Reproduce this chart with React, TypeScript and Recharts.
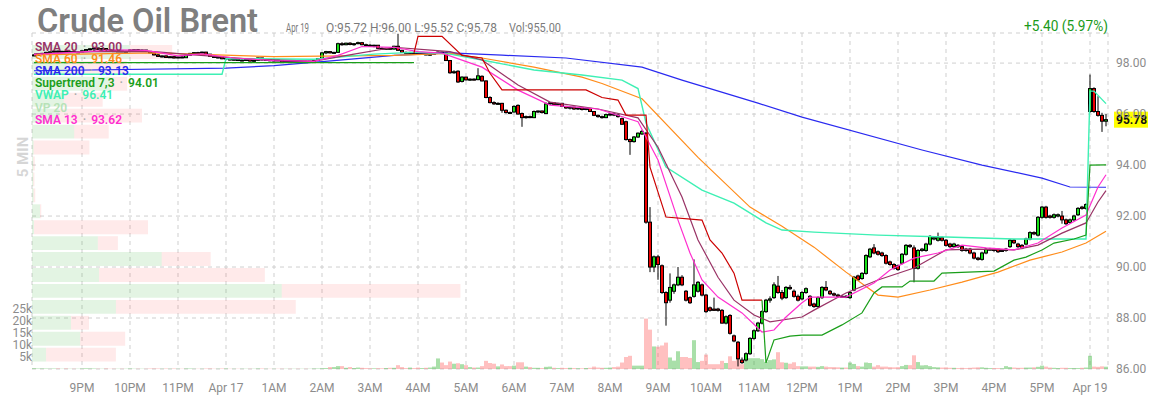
import React from 'react';
import {
  ComposedChart, Bar, Line, XAxis, YAxis, CartesianGrid,
  ReferenceArea, ReferenceLine, Cell,
} from 'recharts';

// 5 分足: [open, high, low, close, volume(k)]
const eveningBars = [
  [98.30,98.34,98.27,98.32,0.3],[98.32,98.36,98.30,98.35,0.2],[98.35,98.40,98.33,98.38,0.2],[98.38,98.44,98.36,98.42,0.2],
  [98.42,98.46,98.39,98.44,0.1],[98.44,98.50,98.42,98.47,0.2],[98.47,98.49,98.41,98.43,0.2],[98.43,98.48,98.42,98.46,0.1],
  [98.46,98.47,98.40,98.42,0.2],[98.42,98.46,98.41,98.45,0.1],[98.45,98.48,98.40,98.41,0.1],[98.41,98.45,98.39,98.44,0.1],
  [98.44,98.50,98.43,98.48,0.2],[98.48,98.55,98.46,98.53,0.3],[98.53,98.58,98.50,98.56,0.2],[98.56,98.62,98.54,98.59,0.2],
  [98.59,98.61,98.52,98.54,0.1],[98.54,98.58,98.53,98.57,0.1],[98.57,98.59,98.50,98.52,0.2],[98.52,98.55,98.47,98.49,0.1],
  [98.49,98.52,98.45,98.47,0.1],[98.47,98.50,98.44,98.48,0.1],[98.48,98.49,98.43,98.45,0.1],[98.45,98.48,98.44,98.47,0.1],
  [98.47,98.53,98.46,98.51,0.2],[98.51,98.54,98.48,98.52,0.1],[98.52,98.55,98.49,98.50,0.1],[98.50,98.53,98.47,98.51,0.1],
  [98.51,98.52,98.44,98.46,0.1],[98.46,98.47,98.38,98.40,0.2],[98.40,98.41,98.30,98.32,0.2],[98.32,98.36,98.24,98.26,0.2],
  [98.26,98.30,98.22,98.28,0.1],[98.28,98.30,98.20,98.22,0.2],[98.22,98.27,98.20,98.25,0.1],[98.25,98.28,98.18,98.20,0.2],
  [98.20,98.26,98.19,98.24,0.1],[98.24,98.27,98.19,98.21,0.1],[98.21,98.33,98.20,98.31,0.2],[98.31,98.40,98.30,98.38,0.2],
  [98.38,98.43,98.35,98.41,0.1],[98.41,98.44,98.37,98.39,0.1],[98.39,98.45,98.38,98.43,0.1],[98.43,98.44,98.33,98.35,0.2],
  [98.35,98.36,98.24,98.26,0.2],[98.26,98.29,98.20,98.22,0.1],[98.22,98.26,98.18,98.24,0.1],[98.24,98.25,98.15,98.17,0.2],
];

const nightBars = [
  [98.17,98.22,98.12,98.20,0.2],[98.20,98.21,98.10,98.12,0.1],[98.12,98.17,98.10,98.15,0.1],[98.15,98.18,98.08,98.10,0.1],
  [98.10,98.14,98.07,98.12,0.1],[98.12,98.16,98.10,98.14,0.1],[98.14,98.15,98.06,98.08,0.1],[98.08,98.12,98.05,98.11,0.1],
  [98.11,98.22,98.10,98.20,0.2],[98.20,98.21,98.10,98.12,0.2],[98.12,98.16,98.09,98.14,0.1],[98.14,98.15,98.07,98.09,0.1],
  [98.09,98.13,98.06,98.12,0.1],[98.12,98.14,98.08,98.10,0.1],[98.10,98.12,98.03,98.05,0.1],[98.05,98.10,98.03,98.08,0.1],
  [98.08,98.09,98.02,98.04,0.1],[98.04,98.08,98.02,98.07,0.1],[98.07,98.10,98.03,98.05,0.1],[98.05,98.08,98.01,98.06,0.1],
  [98.06,98.09,98.02,98.04,0.1],[98.04,98.08,98.02,98.07,0.1],[98.07,98.12,98.05,98.10,0.2],[98.10,98.20,98.08,98.18,0.2],
  [98.18,98.42,98.16,98.40,0.3],[98.40,98.48,98.35,98.45,0.4],[98.45,98.47,98.38,98.40,0.8],[98.40,98.44,98.36,98.42,0.8],
  [98.42,98.80,98.40,98.76,1.2],[98.76,98.82,98.68,98.72,1.2],[98.72,98.80,98.70,98.78,0.5],[98.78,98.82,98.70,98.73,0.8],
  [98.73,98.78,98.68,98.76,0.4],[98.76,98.84,98.74,98.80,0.6],[98.80,98.83,98.70,98.72,0.5],[98.72,98.76,98.66,98.70,0.4],
  [98.70,98.74,98.64,98.68,0.3],[98.68,98.72,98.62,98.70,0.3],[98.70,98.71,98.56,98.58,0.3],[98.58,98.62,98.53,98.56,0.3],
  [98.56,98.60,98.52,98.58,0.4],[98.58,98.62,98.54,98.55,0.5],[98.55,98.68,98.53,98.66,0.5],[98.66,99.15,98.48,98.50,1.6],
  [98.50,98.52,98.40,98.42,0.8],[98.42,98.45,98.38,98.40,0.4],[98.40,98.44,98.37,98.42,0.6],[98.42,98.43,98.36,98.38,0.4],
  [98.38,98.40,98.32,98.34,0.6],[98.34,98.40,98.32,98.38,0.4],[98.38,98.39,98.30,98.32,0.5],[98.32,98.36,98.28,98.35,0.6],
  [98.35,98.42,98.33,98.40,1.0],[98.40,98.46,98.36,98.43,4.4],[98.43,98.45,98.36,98.40,2.7],[98.40,98.42,98.08,98.10,1.6],
];

const morningBars = [
  [98.10,98.12,97.58,97.62,3.1],[97.62,97.72,97.58,97.66,2.2],[97.68,97.72,97.22,97.26,2.4],[97.28,97.48,97.24,97.45,2.0],
  [97.45,97.46,97.32,97.34,1.6],[97.34,97.40,97.30,97.37,0.8],[97.37,97.40,97.32,97.35,0.6],[97.35,97.80,97.33,97.50,0.6],
  [97.48,97.52,97.28,97.30,1.2],[97.30,97.32,96.62,96.65,3.4],[96.65,96.70,96.42,96.45,2.5],[96.45,96.50,96.36,96.40,2.2],
  [96.40,96.46,96.36,96.42,1.1],[96.42,96.44,96.05,96.15,1.9],[96.15,96.18,96.02,96.06,1.2],[96.06,96.10,96.00,96.05,1.2],
  [96.08,96.34,96.06,96.30,1.4],[96.34,96.38,95.98,96.00,2.8],[96.02,96.06,95.50,95.86,2.8],[95.86,95.94,95.82,95.90,1.0],
  [95.90,95.94,95.84,95.88,0.8],[95.86,96.14,95.84,96.10,0.5],[96.10,96.14,96.04,96.12,0.5],[96.12,96.14,96.02,96.06,0.4],
  [96.02,96.46,96.00,96.40,0.9],[96.40,96.48,96.36,96.44,1.0],[96.44,96.47,96.36,96.38,0.5],[96.38,96.44,96.34,96.42,0.4],
  [96.42,96.44,96.28,96.30,0.5],[96.30,96.32,96.20,96.24,0.4],[96.24,96.30,96.18,96.27,0.5],[96.27,96.29,96.16,96.20,0.4],
  [96.20,96.26,96.16,96.24,0.3],[96.24,96.26,96.14,96.18,0.3],[96.18,96.25,96.15,96.22,0.4],[96.22,96.24,96.08,96.10,0.5],
  [96.10,96.12,95.92,95.95,1.0],[95.95,95.98,95.86,95.90,0.6],[95.90,95.94,95.82,95.86,0.5],[95.86,96.02,95.84,95.98,0.5],
  [95.98,96.04,95.94,96.00,0.6],[96.00,96.05,95.92,95.96,0.8],[95.96,96.00,95.86,95.90,1.0],[95.82,95.86,95.58,95.60,2.7],
  [95.70,95.74,94.96,95.00,5.0],[95.00,95.04,94.40,94.92,5.5],[94.92,95.14,94.88,95.10,1.4],[95.10,95.28,95.06,95.25,1.4],
  [95.22,95.38,95.18,95.32,1.4],[95.25,95.30,91.70,91.76,21.0],[91.76,92.35,89.80,90.00,16.4],[90.00,90.45,89.80,90.40,9.4],
  [90.40,90.48,89.50,90.10,9.3],[90.05,90.10,88.95,89.00,9.8],[89.00,89.05,87.70,88.60,11.0],[88.70,89.75,88.60,89.20,4.8],
  [89.05,89.35,88.95,89.30,3.5],[89.30,90.00,89.25,89.60,7.4],[89.60,89.68,89.25,89.30,5.0],[89.05,89.10,88.65,88.70,5.0],
  [88.80,88.85,88.55,88.60,4.6],[88.85,90.30,88.80,89.30,12.0],[89.05,89.45,89.00,89.40,2.9],[89.30,89.35,88.85,88.90,3.4],
  [88.90,88.95,88.20,88.25,6.0],[88.40,88.45,88.25,88.30,2.0],[88.35,88.80,88.28,88.30,2.0],[88.35,88.40,88.25,88.30,2.0],
  [88.30,88.35,87.78,87.80,3.4],[87.80,88.10,87.75,88.05,2.5],[88.10,88.15,87.35,87.40,5.3],[87.30,87.35,87.05,87.10,3.4],
  [87.05,87.10,86.10,86.40,4.5],[86.35,86.45,86.20,86.25,2.0],[86.35,86.65,86.30,86.60,3.4],[86.60,87.25,86.55,87.20,4.5],
  [87.20,87.55,87.15,87.50,4.5],[87.50,87.85,87.45,87.80,4.5],[87.80,88.30,87.75,88.25,4.1],[88.25,88.75,88.20,88.70,3.0],
  [88.70,88.85,88.60,88.75,3.7],[88.80,89.40,88.75,89.30,4.0],[89.25,89.65,88.95,89.00,7.0],[89.00,89.10,88.70,88.78,2.8],
  [88.80,89.25,88.75,89.20,2.6],[89.20,89.30,89.10,89.15,2.2],[89.05,89.12,88.80,88.85,2.8],[88.85,88.92,88.65,88.70,1.2],
];

const afternoonBars = [
  [88.75,89.05,88.70,89.00,1.1],[89.00,89.20,88.95,89.15,1.1],[88.85,88.90,88.45,88.50,1.0],[88.55,88.60,88.40,88.45,1.0],
  [88.45,88.85,88.40,88.80,0.9],[88.80,89.25,88.75,89.20,1.2],[89.20,89.45,89.05,89.10,1.0],[89.05,89.10,88.90,88.95,0.8],
  [88.95,89.00,88.85,88.90,0.8],[88.90,88.95,88.80,88.85,0.7],[88.85,88.90,88.80,88.85,0.6],[88.85,88.90,88.78,88.84,0.6],
  [88.80,89.05,88.75,89.00,2.7],[89.10,89.65,89.05,89.60,2.1],[89.65,89.70,89.45,89.50,1.2],[89.55,89.80,89.50,89.75,1.0],
  [89.75,90.50,89.70,90.45,2.7],[90.40,90.75,90.35,90.70,2.5],[90.75,90.90,90.50,90.55,1.0],[90.60,90.65,90.45,90.50,1.6],
  [90.55,90.60,90.40,90.45,1.0],[90.45,90.50,90.10,90.15,1.0],[90.20,90.25,90.05,90.10,0.8],[90.10,90.15,89.90,89.95,0.7],
  [90.05,90.10,89.85,89.90,0.8],[90.15,90.55,90.10,90.50,1.2],[90.50,90.90,90.45,90.85,1.7],[90.85,90.90,90.75,90.80,1.6],
  [90.75,90.85,89.40,89.95,5.7],[89.95,90.70,89.90,90.65,2.9],[90.65,90.75,90.60,90.70,1.5],[90.65,90.95,90.60,90.90,1.6],
  [90.90,91.25,90.85,91.20,1.2],[91.10,91.20,91.05,91.15,0.8],[91.05,91.35,91.00,91.15,0.7],[91.15,91.20,91.00,91.05,0.6],
  [91.05,91.10,90.80,90.85,0.7],[90.90,90.95,90.75,90.80,0.5],[90.80,90.95,90.75,90.90,0.5],[90.85,90.90,90.75,90.80,0.4],
  [90.80,90.85,90.60,90.65,0.5],[90.70,90.75,90.60,90.65,0.4],[90.70,90.75,90.50,90.55,0.5],[90.55,90.60,90.30,90.35,0.6],
  [90.35,90.40,90.25,90.30,0.7],[90.30,90.60,90.25,90.55,0.7],[90.55,90.75,90.50,90.70,0.5],[90.70,90.75,90.65,90.70,0.4],
  [90.70,90.75,90.60,90.65,0.4],[90.70,90.72,90.55,90.60,0.4],[90.65,90.70,90.60,90.65,0.3],[90.65,90.75,90.60,90.70,1.2],
  [90.80,91.10,90.75,91.05,0.8],[91.05,91.10,90.90,90.95,0.6],[90.90,90.95,90.75,90.80,0.5],[90.85,90.90,90.70,90.75,0.5],
  [90.90,91.15,90.85,91.10,0.6],[91.10,91.40,91.05,91.35,0.6],[91.35,91.40,91.25,91.30,0.7],[91.25,92.00,91.20,91.95,0.9],
  [91.95,92.40,91.90,92.35,1.4],[92.35,92.40,91.90,91.95,1.0],[92.00,92.05,91.90,91.95,0.6],[91.95,92.10,91.90,92.05,0.5],
  [92.00,92.10,91.95,92.05,0.4],[92.00,92.20,91.70,91.85,0.5],[91.85,91.90,91.65,91.70,0.5],[91.75,91.90,91.70,91.85,0.4],
  [91.85,92.05,91.80,92.00,0.4],[92.05,92.35,92.00,92.30,0.4],[92.35,92.40,92.25,92.30,0.5],[92.30,92.50,92.25,92.45,0.6],
];

const apr19Bars = [
  [96.10,97.55,96.05,97.00,5.5],[97.00,97.05,96.05,96.10,1.0],[96.10,96.70,95.90,95.95,0.9],
  [95.95,96.05,95.30,95.72,1.1],[95.72,96.00,95.52,95.78,0.955],
];

// 指標ライン: [バー番号, 値]
const sma20Pts = [[0,98.36],[15,98.45],[30,98.45],[40,98.32],[55,98.15],[70,98.08],[80,98.35],[90,98.62],[100,98.5],[104,98.45],[112,98.12],[121,97.14],[129,96.47],[141,96.2],[151,95.85],[156,94.7],[162,92.75],[166,91.06],[171,89.6],[175,88.7],[180,88.12],[184,87.85],[192,88.04],[195,88.31],[203,88.98],[211,89.49],[220,89.96],[228,90.67],[236,90.7],[245,90.67],[251,90.86],[257,91.33],[263,91.73],[266,92.55],[268,93.0]];
const sma60Pts = [[0,98.32],[30,98.4],[60,98.25],[90,98.3],[104,98.38],[107,98.3],[112,98.2],[125,97.84],[137,97.45],[142,97.2],[152,96.6],[166,94.3],[179,92.35],[187,91.6],[195,90.78],[203,89.8],[211,88.9],[216,88.82],[224,89.1],[232,89.41],[241,89.8],[249,90.27],[257,90.59],[263,90.94],[268,91.4]];
const sma200Pts = [[0,97.7],[48,97.8],[60,97.9],[75,98.1],[90,98.3],[104,98.4],[117,98.31],[133,98.2],[152,97.84],[162,97.33],[181,96.43],[192,95.88],[222,94.59],[237,94.0],[252,93.49],[259,93.14],[268,93.13]];
const sma13Pts = [[0,98.33],[10,98.42],[20,98.52],[28,98.5],[36,98.28],[42,98.36],[50,98.2],[60,98.1],[70,98.07],[76,98.3],[82,98.65],[90,98.62],[96,98.45],[102,98.39],[112,97.84],[121,96.94],[129,96.35],[141,96.2],[151,95.7],[156,94.2],[161,91.84],[164,90.55],[167,89.49],[171,88.82],[177,88.2],[182,87.45],[185,87.53],[188,88.04],[192,88.6],[194,88.82],[203,88.82],[210,89.37],[214,89.88],[220,90.35],[226,90.55],[232,90.86],[238,90.75],[245,90.67],[251,90.94],[257,91.53],[263,92.04],[266,93.14],[268,93.62]];
const vwapPts = [[0,97.56],[47,97.56],[48,98.18],[70,98.15],[85,98.35],[96,98.43],[104,98.35],[112,98.12],[125,97.73],[137,97.53],[147,97.33],[151,97.0],[153,95.65],[158,93.92],[167,93.02],[175,92.51],[183,91.73],[187,91.45],[195,91.37],[211,91.25],[228,91.18],[245,91.1],[263,91.1],[264,96.9],[265,96.9],[268,96.41]];
const stUpEarlyPts = [[0,98.02],[95,98.02]];
const stDownPts = [[95,98.4],[96,99.05],[102,99.05],[107,98.3],[112,98.2],[114,97.6],[117,96.95],[138,96.95],[142,96.65],[146,96.55],[148,95.96],[153,95.96],[154,93.92],[158,91.96],[167,91.84],[169,91.06],[172,90.55],[175,89.76],[177,88.7],[182,88.7]];
const stUpLatePts = [[182,88.7],[183,86.24],[185,87.14],[189,87.29],[192,87.33],[197,87.33],[202,87.73],[207,88.2],[210,88.98],[212,89.22],[217,89.22],[219,89.45],[225,89.45],[227,89.76],[240,89.84],[245,90.27],[248,90.39],[252,90.67],[255,90.94],[260,91.1],[263,91.25],[264,94.0],[268,94.01]];

// VP 20 (下から): 買い / 売り 出来高(k)
const vpGreen = [3.5,12.0,9.7,20.9,62.2,16.7,32.3,16.4,0.5,2.0,0.4,0.3,0.3,0.4,10.5,6.7,7.9,19.4,8.6,24.4];
const vpPink = [17.4,11.2,4.5,44.8,44.5,41.3,12.2,5.0,28.4,0.3,0.4,0.3,0.4,13.9,8.6,20.7,9.7,4.3,15.0,10.5];
const vpLow = 86.25;
const vpStep = 0.625;

const hourTicks = [12,24,36,48,60,72,84,96,108,120,132,144,156,168,180,192,204,216,228,240,252,264];
const hourLabels = ['9PM','10PM','11PM','Apr 17','1AM','2AM','3AM','4AM','5AM','6AM','7AM','8AM','9AM','10AM','11AM','12PM','1PM','2PM','3PM','4PM','5PM','Apr 19'];
const priceTicks = [86, 88, 90, 92, 94, 96, 98];
const volTicks = [5000, 10000, 15000, 20000, 25000];

const legendItems = [
  { name: 'SMA 20', value: '93.00', color: '#993366' },
  { name: 'SMA 60', value: '91.46', color: '#ff8c1a' },
  { name: 'SMA 200', value: '93.13', color: '#2a2af0' },
  { name: 'Supertrend 7,3', value: '94.01', color: '#1a9e1a' },
  { name: 'VWAP', value: '96.41', color: '#3ef0b4' },
  { name: 'VP 20', value: '', color: '#b7e2b7' },
  { name: 'SMA 13', value: '93.62', color: '#ff2fcf' },
];

const COLORS = {
  up: '#18e018',
  down: '#ee0000',
  volUp: 'rgba(30,170,30,0.38)',
  volDown: 'rgba(255,60,60,0.32)',
  vpUp: 'rgba(40,170,40,0.13)',
  vpDown: 'rgba(255,60,60,0.11)',
  grid: '#cfcfcf',
  axis: '#8c8c8c',
};

const FONT = 'Roboto, "Noto Sans", sans-serif';

const bars = [...eveningBars, ...nightBars, ...morningBars, ...afternoonBars, ...apr19Bars];
const rows: any[] = bars.map(([o, h, l, c, v], i) => ({
  slot: i, o, h, l, c, range: [l, h], vol: v * 1000,
  sma20: null, sma60: null, sma200: null, sma13: null, vwap: null,
  stUpA: null, stDown: null, stUpB: null,
}));
const put = (key: string, pts: number[][]) => pts.forEach(([i, val]) => { rows[i][key] = val; });
put('sma20', sma20Pts);
put('sma60', sma60Pts);
put('sma200', sma200Pts);
put('sma13', sma13Pts);
put('vwap', vwapPts);
put('stUpA', stUpEarlyPts);
put('stDown', stDownPts);
put('stUpB', stUpLatePts);

const lastClose = rows[rows.length - 1].c;

function Candle(props: any) {
  const { x, y, width, height, payload } = props;
  if (!payload) return null;
  const { o, h, l, c } = payload;
  const top = Math.min(y, y + height);
  const full = Math.abs(height);
  const ppu = h > l ? full / (h - l) : 0;
  const bodyTop = top + (h - Math.max(o, c)) * ppu;
  const bodyH = Math.max(1, Math.abs(o - c) * ppu);
  const cx = x + width / 2;
  return (
    <g>
      <line x1={cx} x2={cx} y1={top} y2={top + full} stroke="#000" strokeWidth={1} />
      <rect x={x + 0.5} y={bodyTop} width={Math.max(1, width - 1)} height={bodyH}
        fill={c >= o ? COLORS.up : COLORS.down} stroke="#000" strokeWidth={1} />
    </g>
  );
}

function LastPriceTag({ viewBox }: any) {
  if (!viewBox) return null;
  const { x, y, width } = viewBox;
  return (
    <g>
      <rect x={x + width + 6} y={y - 8} width={34} height={16} fill="#ffff00" />
      <text x={x + width + 8} y={y + 4.5} fontSize={12} fontWeight={700} fill="#111" fontFamily={FONT}>
        {lastClose.toFixed(2)}
      </text>
    </g>
  );
}

export default function App() {
  const lineProps = {
    xAxisId: 'main', yAxisId: 'price', dot: false, activeDot: false,
    connectNulls: true, isAnimationActive: false, type: 'linear' as const,
  };
  return (
    <div style={{ position: 'absolute', left: 0, top: 0, width: 1156, height: 400, background: '#fff', fontFamily: FONT }}>
      <ComposedChart width={1156} height={400} data={rows}
        margin={{ top: 33, right: 0, bottom: 0, left: 0 }} barCategoryGap={0} barGap={0}>
        <CartesianGrid xAxisId="main" yAxisId="price" strokeDasharray="4 4" stroke={COLORS.grid} />
        <XAxis xAxisId="main" dataKey="slot" type="category" ticks={hourTicks} interval={0}
          tickFormatter={(v: number) => hourLabels[hourTicks.indexOf(v)]}
          axisLine={false} tickLine={false} tickSize={6} tickMargin={8} height={31}
          tick={{ fill: COLORS.axis, fontSize: 12, fontFamily: FONT }} />
        <XAxis xAxisId="v" dataKey="slot" type="category" hide />
        <XAxis xAxisId="vp" type="number" domain={[0, 268]} allowDataOverflow hide />
        <YAxis yAxisId="price" orientation="right" domain={[86, 99.18]} allowDataOverflow
          ticks={priceTicks} tickFormatter={(v: number) => v.toFixed(2)} width={48}
          axisLine={false} tickLine={false} tick={{ fill: COLORS.axis, fontSize: 12, fontFamily: FONT }} />
        <YAxis yAxisId="vol" orientation="left" domain={[0, 140000]} allowDataOverflow
          ticks={volTicks} interval={0} tickFormatter={(v: number) => `${v / 1000}k`} width={32}
          axisLine={false} tickLine={false} tickSize={0} tickMargin={0}
          tick={{ fill: COLORS.axis, fontSize: 12, fontFamily: FONT }} />

        {vpGreen.map((g, k) => (
          <ReferenceArea key={`vg${k}`} xAxisId="vp" yAxisId="price" x1={0} x2={g}
            y1={vpLow + k * vpStep + 0.04} y2={vpLow + (k + 1) * vpStep - 0.04}
            fill={COLORS.vpUp} fillOpacity={1} stroke="none" />
        ))}
        {vpPink.map((p, k) => (
          <ReferenceArea key={`vp${k}`} xAxisId="vp" yAxisId="price" x1={vpGreen[k]} x2={vpGreen[k] + p}
            y1={vpLow + k * vpStep + 0.04} y2={vpLow + (k + 1) * vpStep - 0.04}
            fill={COLORS.vpDown} fillOpacity={1} stroke="none" />
        ))}

        <Bar xAxisId="v" yAxisId="vol" dataKey="vol" isAnimationActive={false}>
          {rows.map((r, i) => (
            <Cell key={`c${i}`} fill={r.c >= r.o ? COLORS.volUp : COLORS.volDown} />
          ))}
        </Bar>
        <Bar xAxisId="main" yAxisId="price" dataKey="range" isAnimationActive={false}
          shape={(p: any) => <Candle {...p} />} />

        <Line {...lineProps} dataKey="sma200" stroke="#2a2af0" strokeWidth={1.2} />
        <Line {...lineProps} dataKey="sma60" stroke="#ff8c1a" strokeWidth={1.2} />
        <Line {...lineProps} dataKey="vwap" stroke="#3ef0b4" strokeWidth={1.4} />
        <Line {...lineProps} dataKey="sma20" stroke="#993366" strokeWidth={1.2} />
        <Line {...lineProps} dataKey="sma13" stroke="#ff2fcf" strokeWidth={1.2} />
        <Line {...lineProps} dataKey="stUpA" stroke="#1a9e1a" strokeWidth={1.2} />
        <Line {...lineProps} dataKey="stDown" stroke="#cc0000" strokeWidth={1.2} />
        <Line {...lineProps} dataKey="stUpB" stroke="#1a9e1a" strokeWidth={1.2} />

        <ReferenceLine xAxisId="main" yAxisId="price" y={lastClose} stroke="none"
          label={<LastPriceTag />} />
      </ComposedChart>

      <svg width={1156} height={400} style={{ position: 'absolute', left: 0, top: 0, pointerEvents: 'none' }}>
        <text x={37} y={32} fontSize={33} fontWeight={600} fill="#7f7f7f" fontFamily={FONT}
          textLength={221} lengthAdjust="spacingAndGlyphs">Crude Oil Brent</text>
        <text x={286} y={32} fontSize={12} fill="#7a7a7a" fontFamily={FONT} textLength={23} lengthAdjust="spacingAndGlyphs">Apr 19</text>
        <text x={326} y={32} fontSize={12} fill="#7a7a7a" fontFamily={FONT} textLength={171} lengthAdjust="spacingAndGlyphs">O:95.72 H:96.00 L:95.52 C:95.78</text>
        <text x={509} y={32} fontSize={12} fill="#7a7a7a" fontFamily={FONT} textLength={52} lengthAdjust="spacingAndGlyphs">Vol:955.00</text>
        <text x={1024} y={31} fontSize={14} fill="#1a9a1a" fontFamily={FONT} textLength={84} lengthAdjust="spacingAndGlyphs">+5.40 (5.97%)</text>
        <text x={0} y={0} fontSize={15} fontWeight={700} fill="#d6d6d6" fontFamily={FONT} textAnchor="middle"
          transform="translate(28,157) rotate(-90)">5 MIN</text>
        {legendItems.map((it, k) => (
          <text key={it.name} x={35} y={51 + k * 12.1} fontSize={12} fontWeight={600} fontFamily={FONT}>
            <tspan fill={it.color}>{it.name}</tspan>
            {it.value && <tspan fill="#aaa" dx={5}>·</tspan>}
            {it.value && <tspan fill={it.color} dx={5}>{it.value}</tspan>}
          </text>
        ))}
      </svg>
    </div>
  );
}
